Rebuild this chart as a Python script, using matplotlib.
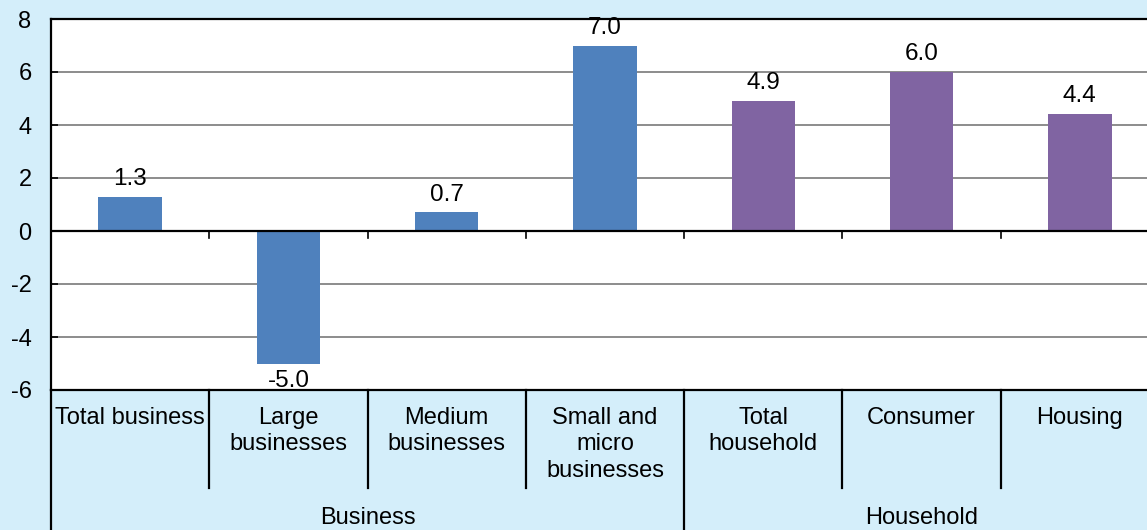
import matplotlib.pyplot as plt
import numpy as np

plt.rcParams['font.family'] = ['Liberation Sans', 'DejaVu Sans']
plt.rcParams['axes.unicode_minus'] = False

# data
categories = ['Total business', 'Large\nbusinesses', 'Medium\nbusinesses',
              'Small and\nmicro\nbusinesses', 'Total\nhousehold', 'Consumer', 'Housing']
values = [1.3, -5.0, 0.7, 7.0, 4.9, 6.0, 4.4]
groups = ['Business', 'Household']
group_sizes = [4, 3]

blue = '#4F81BD'
purple = '#8064A2'
bg = '#D4EEFA'

colors = [blue] * group_sizes[0] + [purple] * group_sizes[1]
x = np.arange(len(categories))

fig = plt.figure(figsize=(11.47, 5.30), dpi=100, facecolor=bg)
W, H = 1147, 530
left, right, top, bottom = 51, 1159, 19, 390
ax = fig.add_axes([left / W, 1 - bottom / H, (right - left) / W, (bottom - top) / H])
ax.set_facecolor('white')

bars = ax.bar(x, values, 0.4, color=colors, zorder=3)
for rect, v in zip(bars, values):
    cx = rect.get_x() + rect.get_width() / 2
    if v >= 0:
        ax.annotate(f'{v:.1f}', (cx, v), xytext=(0, 5), textcoords='offset points',
                    ha='center', va='bottom', fontsize=17.5, zorder=4)
    else:
        ax.annotate(f'{v:.1f}', (cx, v), xytext=(0, -5), textcoords='offset points',
                    ha='center', va='top', fontsize=17.5, zorder=4)

ax.set_xlim(-0.5, len(categories) - 0.5)
ax.set_ylim(-6, 8)
ax.set_yticks(np.arange(-6, 9, 2))
ax.yaxis.grid(True, color='#8C8C8C', linewidth=1.4, zorder=0)
ax.tick_params(axis='y', direction='in', length=5, width=1.2, labelsize=17, pad=14)
ax.set_xticks([])

for s in ['top', 'left', 'bottom']:
    ax.spines[s].set_linewidth(1.6)
ax.spines['right'].set_visible(False)

# zero line with boundary ticks
ax.axhline(0, color='black', linewidth=1.6, zorder=4)
bounds = np.arange(len(categories) + 1) - 0.5
trans = ax.get_xaxis_transform()
zero_frac = 6 / 14
for b in bounds[1:-1]:
    ax.plot([b, b], [zero_frac, zero_frac - 7 / 371], color='black', linewidth=1.2,
            transform=trans, zorder=4)

# category labels
for xi, lab in zip(x, categories):
    ax.text(xi, -0.045, lab, transform=trans, ha='center', va='top', fontsize=17,
            linespacing=1.27)

# separators below axis
ends = np.cumsum(group_sizes)
for i, b in enumerate(bounds):
    y_end = -0.377 if (i == 0 or i in ends) else -0.264
    ax.plot([b, b], [0, y_end], color='black', linewidth=1.6, transform=trans,
            clip_on=False)

start = 0
for g, n in zip(groups, group_sizes):
    mid = (bounds[start] + bounds[start + n]) / 2
    ax.text(mid, -0.345, g, transform=trans, ha='center', va='center', fontsize=17)
    start += n

fig.savefig('out.png', dpi=100, facecolor=bg)
